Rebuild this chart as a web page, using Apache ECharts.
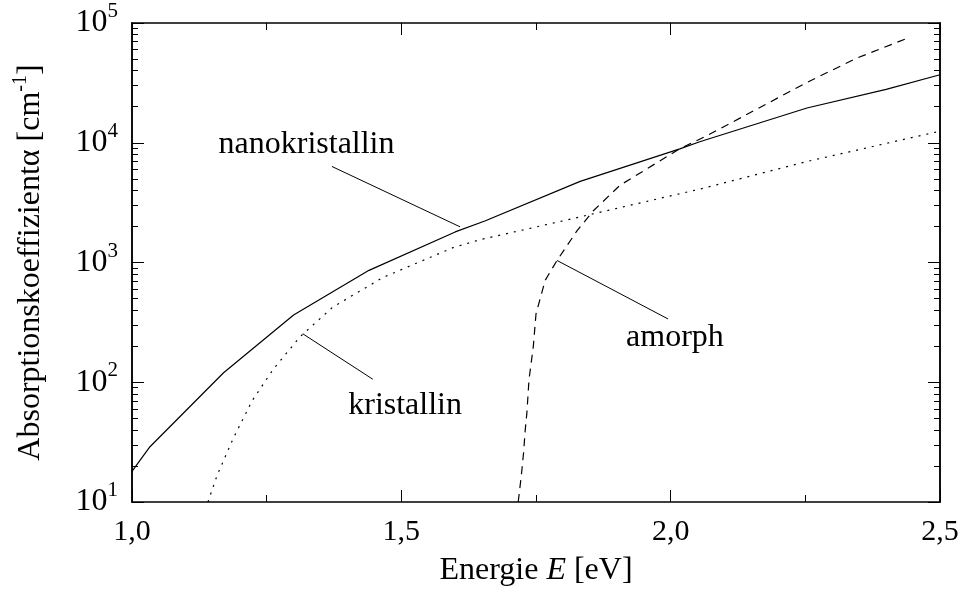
<!DOCTYPE html>
<html><head><meta charset="utf-8">
<script src="https://cdn.jsdelivr.net/npm/echarts@6/dist/echarts.min.js"></script>
<style>html,body{margin:0;padding:0;background:#fff}#c{width:963px;height:592px}</style>
</head><body><div id="c"></div>
<script>
// Energy (eV) / absorption coefficient (cm^-1)
const nanoE  = [1.0, 1.032, 1.17, 1.30, 1.44, 1.60, 1.655, 1.832, 2.017, 2.054, 2.253, 2.40, 2.5];
const nanoA  = [18, 28.5, 120, 365, 860, 1800, 2220, 4760, 8900, 10200, 19500, 27900, 37000];
const krisE  = [1.141, 1.158, 1.188, 1.223, 1.262, 1.312, 1.373, 1.466, 1.596, 1.646, 1.795, 2.054, 2.253, 2.5];
const krisA  = [10, 16.7, 34, 70, 128, 240, 425, 750, 1330, 1550, 2200, 4100, 6970, 12500];
const amorE  = [1.717, 1.723, 1.727, 1.730, 1.733, 1.737, 1.745, 1.750, 1.767, 1.789, 1.826, 1.856, 1.906, 2.017, 2.067, 2.253, 2.346, 2.441];
const amorA  = [10, 17, 26, 40, 55, 105, 199, 372, 709, 1040, 1836, 2692, 4418, 8913, 11430, 31900, 51000, 75100];
const xTicks = [1.0, 1.5, 2.0, 2.5];
const yMajor = [10, 100, 1000, 10000, 100000];
const yMinor = [];
[10, 100, 1000, 10000].forEach(d => { for (let k = 2; k <= 9; k++) yMinor.push(k * d); });
// annotation texts and leader lines (data coordinates)
const labelNames = ['nanokristallin', 'kristallin', 'amorph'];
const labelPos   = [[1.324, 9616], [1.507, 63.4], [2.008, 235]];
const leaders    = [[[1.371, 6340], [1.609, 1986]], [[1.317, 254], [1.447, 106]], [[1.789, 1040], [1.995, 338]]];

const FONT = '"Liberation Serif", "DejaVu Serif", serif';
const zip = (a, b) => a.map((v, i) => [v, b[i]]);
const black = '#000';

function xAxisCfg(pos, labels) {
  return {
    type: 'value', position: pos, min: xTicks[0], max: xTicks[xTicks.length - 1], interval: 0.5,
    axisLine: { show: true, onZero: false, lineStyle: { color: black, width: 1.5 } },
    axisTick: { show: true, inside: true, length: 12, lineStyle: { color: black, width: 1 } },
    minorTick: { show: true, splitNumber: 2, length: 7, lineStyle: { color: black, width: 1 } },
    splitLine: { show: false }, minorSplitLine: { show: false },
    axisLabel: { show: labels, fontSize: 30, fontFamily: FONT, color: black, margin: 15,
      formatter: v => v.toFixed(1).replace('.', ',') }
  };
}
function yAxisCfg(pos, major, labels) {
  return {
    type: 'log', logBase: 10, position: pos, min: yMajor[0], max: yMajor[yMajor.length - 1],
    axisLine: { show: true, onZero: false, lineStyle: { color: black, width: 1.5 } },
    axisTick: { show: true, inside: true, length: major ? 12 : 6, customValues: major ? yMajor : yMinor,
      lineStyle: { color: black, width: 1 } },
    splitLine: { show: false },
    axisLabel: { show: labels, customValues: yMajor, margin: 14, color: black,
      formatter: v => '{b|10}{s|' + Math.round(Math.log10(v)) + '}',
      rich: { b: { fontSize: 32, fontFamily: FONT, color: black, lineHeight: 44, verticalAlign: 'middle' },
              s: { fontSize: 21, fontFamily: FONT, color: black, lineHeight: 21, verticalAlign: 'top' } } }
  };
}

const xa = [xAxisCfg('bottom', true), xAxisCfg('top', false)];
Object.assign(xa[0], {
  name: '{a|Energie }{i|E}{a| [eV]}', nameLocation: 'middle', nameGap: 53,
  nameTextStyle: { rich: { a: { fontSize: 32, fontFamily: FONT, color: black },
                           i: { fontSize: 32, fontFamily: FONT, fontStyle: 'italic', color: black } } }
});
const ya = [yAxisCfg('left', true, true), yAxisCfg('left', false, false), yAxisCfg('right', true, false), yAxisCfg('right', false, false)];
Object.assign(ya[0], {
  name: '{a|Absorptionskoeffizientα [cm}{s|-1}{a|]}', nameLocation: 'middle', nameRotate: 90, nameGap: 81,
  nameTextStyle: { rich: { a: { fontSize: 32, fontFamily: FONT, color: black, lineHeight: 40, verticalAlign: 'middle' },
                           s: { fontSize: 20, fontFamily: FONT, color: black, lineHeight: 20, verticalAlign: 'top' } } }
});

const lineSeries = (name, data, type) => ({
  name, type: 'line', data, showSymbol: false, symbol: 'none', smooth: false, xAxisIndex: 0, yAxisIndex: 0,
  lineStyle: { color: black, width: 1.2, type }, silent: true
});

const s0 = lineSeries('nanokristallin', zip(nanoE, nanoA), 'solid');
s0.markLine = {
  silent: true, symbol: ['none', 'none'], label: { show: false },
  lineStyle: { color: black, width: 1, type: 'solid' },
  data: leaders.map(l => [{ coord: l[0] }, { coord: l[1] }])
};
s0.markPoint = {
  silent: true, symbol: 'rect', symbolSize: 1, itemStyle: { color: 'rgba(0,0,0,0)' },
  label: { show: true, position: 'inside', formatter: p => p.name, fontSize: 32, fontFamily: FONT, color: black },
  data: labelNames.map((n, i) => ({ name: n, coord: labelPos[i] }))
};

const chart = echarts.init(document.getElementById('c'), null, { renderer: 'canvas' });
chart.setOption({
  animation: false,
  backgroundColor: '#fff',
  grid: { left: 132, right: 23, top: 23, bottom: 85, containLabel: false },
  xAxis: xa,
  yAxis: ya,
  series: [
    s0,
    lineSeries('kristallin', zip(krisE, krisA), [2, 6]),
    lineSeries('amorph', zip(amorE, amorA), [8, 6])
  ]
});
</script></body></html>
